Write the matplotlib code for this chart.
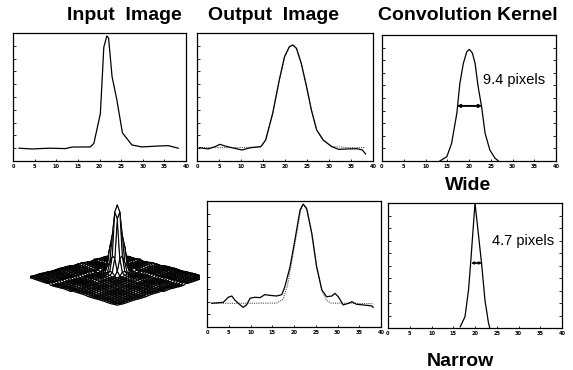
import numpy as np
import matplotlib
matplotlib.use("Agg")
import matplotlib.pyplot as plt

# ---------------- data ----------------
x_ticks = [0, 5, 10, 15, 20, 25, 30, 35, 40]
x_tick_labels = ["0", "5", "10", "15", "20", "25", "30", "35", "40"]

input_x = [1.4, 4.4, 8.3, 12.1, 13.7, 17.9, 18.7, 20.2, 21.0, 21.7, 22.1, 22.9,
           24.0, 25.3, 27.5, 29.8, 33.6, 35.9, 38.2]
input_y = [0.10, 0.094, 0.10, 0.097, 0.109, 0.11, 0.138, 0.37, 0.89, 0.977, 0.96,
           0.66, 0.48, 0.22, 0.125, 0.11, 0.117, 0.12, 0.10]

out_wide_x = [0.6, 2.5, 4.1, 5.2, 6.4, 7.9, 10.2, 12.2, 14.5, 15.6, 17.2, 18.7, 19.9,
              21.0, 21.8, 22.6, 23.7, 24.9, 26.0, 27.2, 28.7, 30.6, 32.2, 34.1, 36.4,
              37.6, 38.3]
out_wide_y = [0.104, 0.094, 0.112, 0.13, 0.117, 0.104, 0.086, 0.104, 0.112, 0.164,
              0.372, 0.633, 0.815, 0.893, 0.906, 0.88, 0.763, 0.58, 0.398, 0.242,
              0.164, 0.112, 0.091, 0.094, 0.096, 0.086, 0.055]
true_wide_x = [0.6, 5.0, 10.0, 14.5, 15.6, 17.2, 18.7, 19.9, 21.0, 21.8, 22.6, 23.7,
               24.9, 26.0, 27.2, 28.7, 30.6, 34.0, 38.3]
true_wide_y = [0.105, 0.105, 0.105, 0.11, 0.16, 0.37, 0.63, 0.815, 0.893, 0.906, 0.88,
               0.763, 0.58, 0.398, 0.242, 0.16, 0.115, 0.105, 0.105]

out_narrow_x = [1.07, 3.75, 4.9, 5.7, 6.4, 7.2, 8.3, 9.1, 9.9, 11.0, 12.2, 13.3, 14.5,
                16.0, 17.2, 17.9, 19.1, 20.2, 21.4, 22.1, 22.9, 24.1, 25.2, 26.4, 27.5,
                28.7, 29.4, 30.2, 31.3, 32.5, 33.3, 34.4, 35.9, 37.9, 38.2]
out_narrow_y = [0.188, 0.196, 0.236, 0.246, 0.214, 0.188, 0.156, 0.175, 0.228, 0.236,
                0.233, 0.257, 0.251, 0.246, 0.257, 0.32, 0.479, 0.69, 0.929, 0.976,
                0.942, 0.743, 0.479, 0.294, 0.24, 0.246, 0.267, 0.24, 0.175, 0.188,
                0.201, 0.18, 0.175, 0.167, 0.156]
true_narrow_x = [1.1, 8.0, 16.0, 17.5, 18.5, 19.5, 20.5, 21.5, 22.1, 23.0, 24.0, 25.2,
                 26.4, 27.5, 28.5, 33.0, 38.2]
true_narrow_y = [0.188, 0.188, 0.19, 0.22, 0.33, 0.52, 0.72, 0.92, 0.97, 0.93, 0.75,
                 0.48, 0.29, 0.21, 0.19, 0.188, 0.185]

kernel_wide_x = [13.3, 14.9, 16.0, 17.2, 17.9, 18.7, 19.5, 20.1, 20.8, 21.4, 22.1,
                 22.9, 23.7, 24.8, 26.0, 26.7]
kernel_wide_y = [0.0, 0.034, 0.14, 0.378, 0.616, 0.775, 0.868, 0.886, 0.855, 0.775,
                 0.59, 0.43, 0.22, 0.087, 0.021, 0.003]
kernel_narrow_x = [16.6, 17.7, 18.5, 19.0, 20.0, 21.5, 22.3, 23.1, 23.4]
kernel_narrow_y = [0.01, 0.09, 0.30, 0.52, 1.0, 0.52, 0.22, 0.04, 0.0]

wide_label = "9.4 pixels"
narrow_label = "4.7 pixels"
wide_fwhm = (17.2, 23.0, 0.437)
narrow_fwhm = (19.1, 21.6, 0.52)

# input image profile sampled per pixel (for the surface view)
surface_profile = [0.10, 0.10, 0.095, 0.094, 0.096, 0.10, 0.10, 0.10, 0.098, 0.097,
                   0.096, 0.097, 0.105, 0.11, 0.11, 0.11, 0.11, 0.115, 0.16, 0.35,
                   0.89, 0.97, 0.65, 0.48, 0.28, 0.17, 0.13, 0.12, 0.11, 0.11,
                   0.112, 0.115, 0.117, 0.118, 0.12, 0.12, 0.11, 0.10]

# ---------------- figure ----------------
W, H = 573, 370
fig = plt.figure(figsize=(W / 100, H / 100), dpi=100)
fig.patch.set_facecolor("white")

def px_axes(l, t, r, b, **kw):
    return fig.add_axes([l / W, 1 - b / H, (r - l) / W, (b - t) / H], **kw)

def style(ax, right_ticks=False):
    ax.set_xlim(0, 40)
    ax.set_ylim(0, 1)
    ax.set_xticks(x_ticks)
    ax.set_xticklabels(x_tick_labels, fontsize=3.6, fontweight="bold")
    ax.set_yticks(np.arange(0.1, 1.0, 0.1))
    ax.set_yticklabels([])
    ax.tick_params(axis="x", direction="in", length=1.5, width=0.6, pad=2)
    ax.tick_params(axis="y", direction="in", length=2, width=0.6, right=right_ticks)
    for s in ax.spines.values():
        s.set_linewidth(0.9)
        s.set_color("black")

lc = dict(color="black", lw=0.9)
dc = dict(color="#555555", lw=0.8, ls=(0, (1, 1)))

ax1 = px_axes(13, 33, 186, 161)
ax1.plot(input_x, input_y, **lc)
style(ax1)

ax2 = px_axes(197, 33, 373, 161)
ax2.plot(true_wide_x, true_wide_y, **dc)
ax2.plot(out_wide_x, out_wide_y, **lc)
style(ax2)

ax3 = px_axes(382, 35, 556, 161)
ax3.plot(kernel_wide_x, kernel_wide_y, **lc)
ax3.annotate("", xy=(wide_fwhm[0], wide_fwhm[2]), xytext=(wide_fwhm[1], wide_fwhm[2]),
             arrowprops=dict(arrowstyle="<|-|>", lw=1.4, color="black",
                             mutation_scale=4, shrinkA=0, shrinkB=0))
ax3.text(23.3, 0.64, wide_label, fontsize=10.5, family="Liberation Sans", va="center")
style(ax3, right_ticks=True)

ax4 = px_axes(207, 201, 381, 327)
ax4.plot(true_narrow_x, true_narrow_y, **dc)
ax4.plot(out_narrow_x, out_narrow_y, **lc)
style(ax4)

ax5 = px_axes(388, 203, 562, 328)
ax5.plot(kernel_narrow_x, kernel_narrow_y, **lc)
ax5.annotate("", xy=(narrow_fwhm[0], narrow_fwhm[2]), xytext=(narrow_fwhm[1], narrow_fwhm[2]),
             arrowprops=dict(arrowstyle="<|-|>", lw=1.2, color="black",
                             mutation_scale=3, shrinkA=0, shrinkB=0))
ax5.text(23.8, 0.70, narrow_label, fontsize=10.5, family="Liberation Sans", va="center")
style(ax5, right_ticks=True)

# surface view of the input image (hidden-line mesh)
p = np.array(surface_profile)
base = p.min()
pk = p.max()
low = np.where(p < 0.13, p - base, 0.0)
Z = base + np.outer(p - base, p - base) / (pk - base) + 0.6 * (low[:, None] + low[None, :])
n = len(p)
Xg, Yg = np.meshgrid(np.arange(n), np.arange(n))
ax6 = px_axes(-10, 163, 240, 333, projection="3d")
ax6.plot_surface(Xg, Yg, Z, rstride=1, cstride=1, color="white", edgecolor="black",
                 linewidth=0.75, shade=False, antialiased=True)
ax6.view_init(elev=14, azim=-135)
ax6.set_zlim(0, 1.0)
ax6.set_box_aspect((1, 1, 0.55), zoom=1.3)
ax6.set_axis_off()
ax6.patch.set_alpha(0)

# titles
tk = dict(fontsize=14, fontweight="bold", family="Liberation Sans", ha="center", va="center")
fig.text(124 / W, 1 - 15 / H, "Input  Image", **tk)
fig.text(274 / W, 1 - 15 / H, "Output  Image", **tk)
fig.text(468 / W, 1 - 15 / H, "Convolution Kernel", **tk)
fig.text(468 / W, 1 - 186 / H, "Wide", **tk)
fig.text(460 / W, 1 - 361 / H, "Narrow", **tk)

fig.savefig("out.png", dpi=100, facecolor="white")
